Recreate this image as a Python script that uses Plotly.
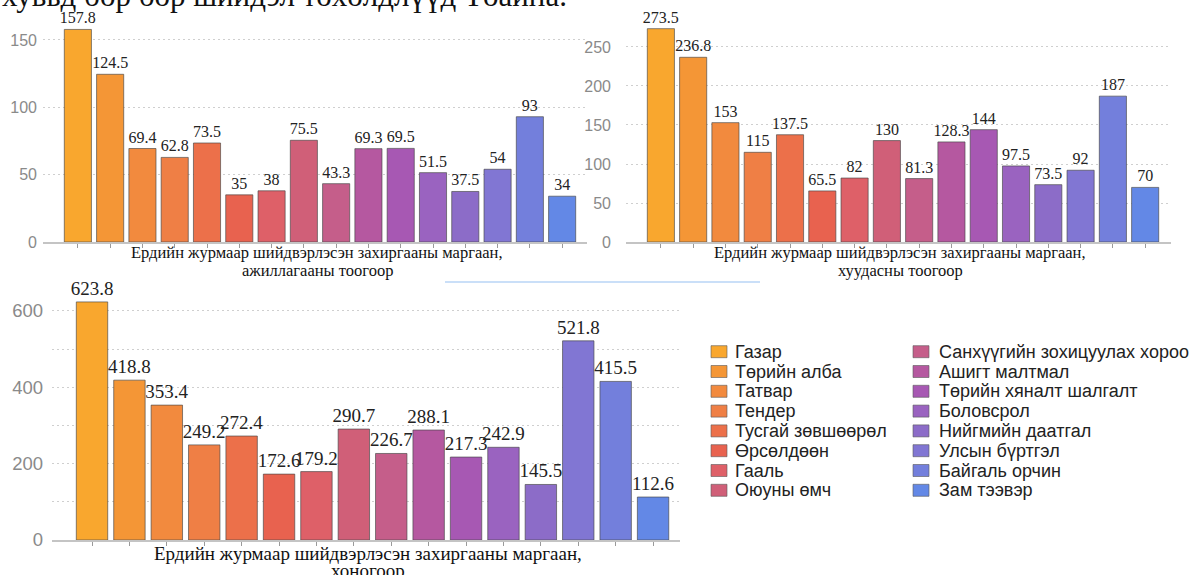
import plotly.graph_objects as go

categories = ["Газар", "Төрийн алба", "Татвар", "Тендер", "Тусгай зөвшөөрөл", "Өрсөлдөөн",
              "Гааль", "Оюуны өмч", "Санхүүгийн зохицуулах хороо", "Ашигт малтмал",
              "Төрийн хяналт шалгалт", "Боловсрол", "Нийгмийн даатгал", "Улсын бүртгэл",
              "Байгаль орчин", "Зам тээвэр"]
by_cases = [157.8, 124.5, 69.4, 62.8, 73.5, 35, 38, 75.5, 43.3, 69.3, 69.5, 51.5, 37.5, 54, 93, 34]
by_pages = [273.5, 236.8, 153, 115, 137.5, 65.5, 82, 130, 81.3, 128.3, 144, 97.5, 73.5, 92, 187, 70]
by_days = [623.8, 418.8, 353.4, 249.2, 272.4, 172.6, 179.2, 290.7, 226.7, 288.1, 217.3, 242.9,
           145.5, 521.8, 415.5, 112.6]
colors = ["#F9A72E", "#F49636", "#F28A3E", "#EF7F45", "#EC704A", "#E8624F", "#DE6068", "#D05F78",
          "#C55E8A", "#B558A0", "#A758B3", "#9A63C0", "#8C6CC8", "#8176D3", "#737FDC", "#6388E6"]
title_line1 = "Ердийн журмаар шийдвэрлэсэн захиргааны маргаан,"
subtitles = ["ажиллагааны тоогоор", "хуудасны тоогоор", "хоногоор"]
header_text = "хувьд бөр бөр шийдэл төхөлдлүүд Төайна."

W, H = 1190, 575
def fx(px):
    return px / W
def fy(py):
    return 1 - py / H

fig = go.Figure()
series = [(by_cases, "x", "y", 16), (by_pages, "x2", "y2", 16), (by_days, "x3", "y3", 19)]
for si, (vals, xa, ya, fsz) in enumerate(series):
    for i, (cat, v, c) in enumerate(zip(categories, vals, colors)):
        fig.add_trace(go.Bar(
            x=[i], y=[v], name=cat, xaxis=xa, yaxis=ya,
            marker=dict(color=c, line=dict(color="rgba(70,70,70,0.65)", width=1)),
            width=0.84, text=[f"{v:g}"], textposition="outside",
            textfont=dict(family="Liberation Serif", size=fsz, color="#222"),
            constraintext="none", cliponaxis=False,
            legendgroup=cat, showlegend=False,
            hoverinfo="x+y+name",
        ))

xcommon = dict(showline=True, linecolor="#c4c4c4", linewidth=2, ticks="outside", ticklen=4,
               tickcolor="#9a9a9a", tickvals=list(range(16)), showticklabels=False,
               showgrid=False, zeroline=False, automargin=False)
grid = dict(showgrid=True, gridcolor="#cfcfcf", griddash="2px,3px", gridwidth=1, zeroline=False,
            showline=False, ticks="", automargin=False)

fig.update_layout(
    width=W, height=H, margin=dict(l=0, r=0, t=0, b=0),
    paper_bgcolor="white", plot_bgcolor="white", barmode="overlay", showlegend=False,
    xaxis=dict(domain=[fx(43), fx(587)], range=[-1.08, 15.77], anchor="y", **xcommon),
    yaxis=dict(domain=[fy(242), fy(20)], range=[0, 164.8], dtick=50, anchor="x",
               ticklabelstandoff=5,
               tickfont=dict(family="Liberation Sans", size=16, color="#8a8a8a"), **grid),
    xaxis2=dict(domain=[fx(626), fx(1171)], range=[-1.08, 15.8], anchor="y2", **xcommon),
    yaxis2=dict(domain=[fy(242), fy(20)], range=[0, 284.6], dtick=50, anchor="x2",
                ticklabelstandoff=14,
                tickfont=dict(family="Liberation Sans", size=16, color="#8a8a8a"), **grid),
    xaxis3=dict(domain=[fx(52), fx(680)], range=[-1.07, 15.72], anchor="y3", **xcommon),
    yaxis3=dict(domain=[fy(540), fy(290)], range=[0, 655], dtick=200, anchor="x3",
                ticklabelstandoff=8,
                tickfont=dict(family="Liberation Sans", size=18.5, color="#8a8a8a"),
                minor=dict(dtick=100, showgrid=True, gridcolor="#cfcfcf", griddash="2px,3px"),
                **grid),
)

annotations = []
for (cx, ytop, sub, fsz) in [(317, 253, subtitles[0], 16.5), (900, 253, subtitles[1], 16.5),
                             (368, 553, subtitles[2], 19)]:
    annotations.append(dict(x=fx(cx), y=fy(ytop), xref="paper", yref="paper", text=title_line1,
                            showarrow=False, xanchor="center", yanchor="middle",
                            font=dict(family="Liberation Serif", size=fsz, color="#111")))
    annotations.append(dict(x=fx(cx), y=fy(ytop + 17.5), xref="paper", yref="paper", text=sub,
                            showarrow=False, xanchor="center", yanchor="middle",
                            font=dict(family="Liberation Serif", size=fsz, color="#111")))
annotations.append(dict(x=0, y=fy(15), xref="paper", yref="paper", text=header_text,
                        showarrow=False, xanchor="left", yanchor="bottom",
                        font=dict(family="Liberation Serif", size=31, color="#111")))

# manual two-column legend
shapes = []
for i, (cat, c) in enumerate(zip(categories, colors)):
    col, row = divmod(i, 8)
    sx = 711 if col == 0 else 913
    tx = 733 if col == 0 else 937
    cy = 351.7 + 19.8 * row
    shapes.append(dict(type="rect", xref="paper", yref="paper", x0=fx(sx), x1=fx(sx + 16),
                       y0=fy(cy + 6), y1=fy(cy - 6), fillcolor=c,
                       line=dict(color="rgba(90,90,90,0.6)", width=1)))
    annotations.append(dict(x=fx(tx), y=fy(cy), xref="paper", yref="paper", text=cat,
                            showarrow=False, xanchor="left", yanchor="middle",
                            font=dict(family="Liberation Sans", size=18, color="#222")))
shapes.append(dict(type="line", xref="paper", yref="paper", x0=fx(445), x1=fx(760), y0=fy(282),
                   y1=fy(282), line=dict(color="rgba(180,210,245,0.7)", width=2)))
fig.update_layout(annotations=annotations, shapes=shapes)

fig.write_html("out.html", config={"displayModeBar": False},
               post_script="document.body.style.margin='0';")
